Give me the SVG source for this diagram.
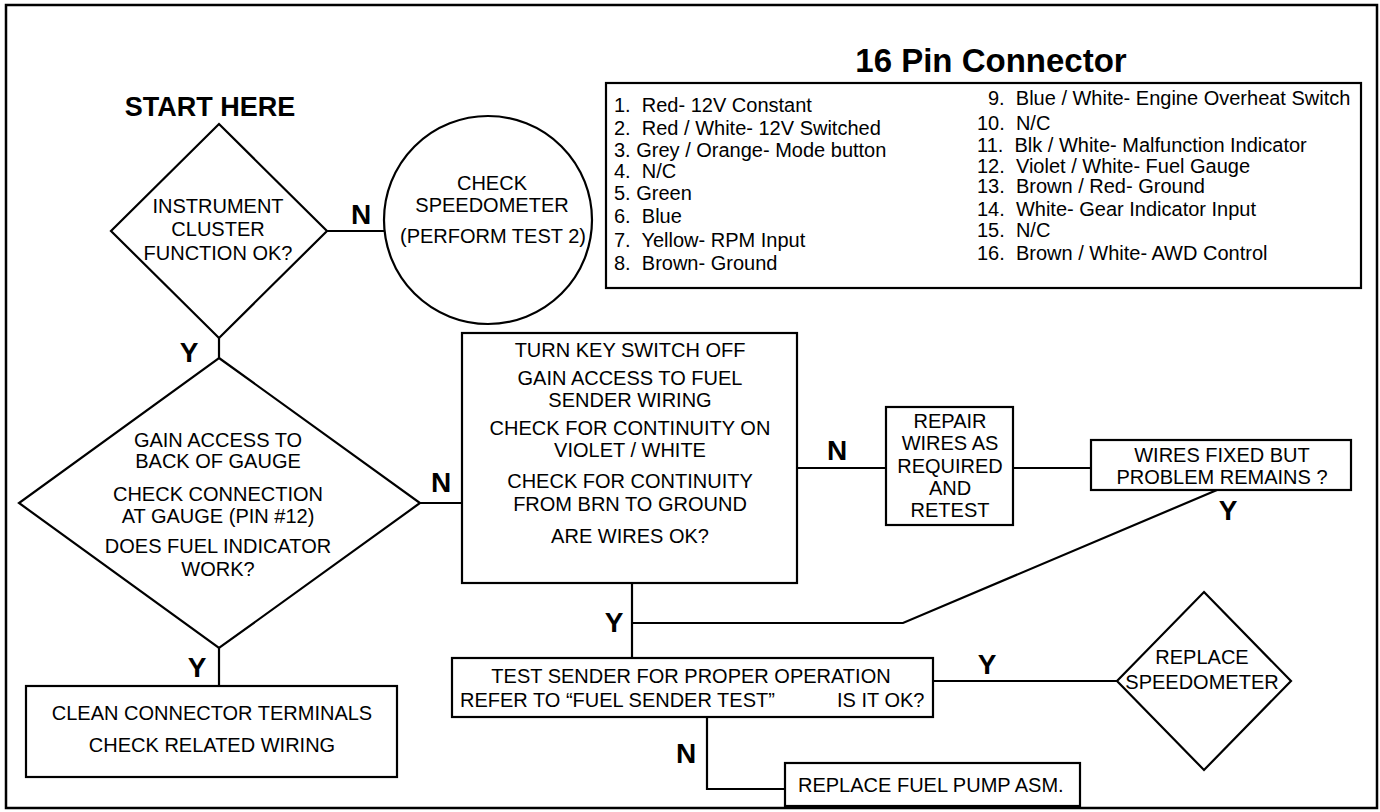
<svg xmlns="http://www.w3.org/2000/svg" width="1380" height="812" viewBox="0 0 1380 812">
<style>
.shape{fill:#fff;stroke:#000;stroke-width:2.2}
.conn{fill:none;stroke:#000;stroke-width:2.2}
text{font-family:"Liberation Sans",Arial,Helvetica,sans-serif;fill:#000}
.t{font-size:20px;text-anchor:middle}
.tl{font-size:20px}
.lbl{font-size:28px;font-weight:bold;text-anchor:middle}
.title{font-weight:bold;text-anchor:middle}
</style>
<rect x="6" y="5" width="1371" height="803" fill="#fff" stroke="#000" stroke-width="2.5"/>

<g id="connectors">
<polyline class="conn" points="327,231 384,231"/>
<polyline class="conn" points="219,338 219,358"/>
<polyline class="conn" points="420,503 462,503"/>
<polyline class="conn" points="797,468 886,468"/>
<polyline class="conn" points="1013,468 1091,468"/>
<polyline class="conn" points="1217,490 903,623 633,623"/>
<polyline class="conn" points="632,583 632,658"/>
<polyline class="conn" points="933,681 1117,681"/>
<polyline class="conn" points="707,717 707,789 785,789"/>
<polyline class="conn" points="219,648 219,686"/>
<text class="lbl" x="361" y="224">N</text>
<text class="lbl" x="189" y="362">Y</text>
<text class="lbl" x="441" y="492">N</text>
<text class="lbl" x="837" y="460">N</text>
<text class="lbl" x="1228" y="520">Y</text>
<text class="lbl" x="614" y="632">Y</text>
<text class="lbl" x="987" y="674">Y</text>
<text class="lbl" x="686" y="763">N</text>
<text class="lbl" x="197" y="677">Y</text>
</g>

<g id="start-label">
<text class="title" x="210" y="116" font-size="27">START HERE</text>
</g>

<g id="d1">
<polygon class="shape" points="219,124 327,231 219,338 111,231"/>
<text class="t" x="218" y="213">INSTRUMENT</text>
<text class="t" x="218" y="236">CLUSTER</text>
<text class="t" x="218" y="260">FUNCTION OK?</text>
</g>

<g id="c1">
<circle class="shape" cx="488" cy="220" r="104"/>
<text class="t" x="492" y="190">CHECK</text>
<text class="t" x="492" y="212">SPEEDOMETER</text>
<text class="t" x="493" y="243">(PERFORM TEST 2)</text>
</g>

<g id="pins">
<text class="title" x="991" y="72" font-size="33">16 Pin Connector</text>
<rect class="shape" x="606" y="83" width="755" height="205"/>
<text class="tl" x="614" y="112">1.&#160; Red- 12V Constant</text>
<text class="tl" x="614" y="135">2.&#160; Red / White- 12V Switched</text>
<text class="tl" x="614" y="157">3. Grey / Orange- Mode button</text>
<text class="tl" x="614" y="178">4.&#160; N/C</text>
<text class="tl" x="614" y="200">5. Green</text>
<text class="tl" x="614" y="223">6.&#160; Blue</text>
<text class="tl" x="614" y="247">7.&#160; Yellow- RPM Input</text>
<text class="tl" x="614" y="270">8.&#160; Brown- Ground</text>
<text class="tl" x="988" y="105">9.&#160; Blue / White- Engine Overheat Switch</text>
<text class="tl" x="977" y="130">10.&#160; N/C</text>
<text class="tl" x="977" y="152">11.&#160; Blk / White- Malfunction Indicator</text>
<text class="tl" x="977" y="173">12.&#160; Violet / White- Fuel Gauge</text>
<text class="tl" x="977" y="193">13.&#160; Brown / Red- Ground</text>
<text class="tl" x="977" y="216">14.&#160; White- Gear Indicator Input</text>
<text class="tl" x="977" y="237">15.&#160; N/C</text>
<text class="tl" x="977" y="260">16.&#160; Brown / White- AWD Control</text>
</g>

<g id="d2">
<polygon class="shape" points="219,358 420,503 219,648 19,503"/>
<text class="t" x="218" y="447">GAIN ACCESS TO</text>
<text class="t" x="218" y="468">BACK OF GAUGE</text>
<text class="t" x="218" y="501">CHECK CONNECTION</text>
<text class="t" x="218" y="523">AT GAUGE (PIN #12)</text>
<text class="t" x="218" y="553">DOES FUEL INDICATOR</text>
<text class="t" x="218" y="576">WORK?</text>
</g>

<g id="check-wires">
<rect class="shape" x="462" y="333" width="335" height="250"/>
<text class="t" x="630" y="357">TURN KEY SWITCH OFF</text>
<text class="t" x="630" y="385">GAIN ACCESS TO FUEL</text>
<text class="t" x="630" y="407">SENDER WIRING</text>
<text class="t" x="630" y="435">CHECK FOR CONTINUITY ON</text>
<text class="t" x="630" y="457">VIOLET / WHITE</text>
<text class="t" x="630" y="488">CHECK FOR CONTINUITY</text>
<text class="t" x="630" y="511">FROM BRN TO GROUND</text>
<text class="t" x="630" y="543">ARE WIRES OK?</text>
</g>

<g id="repair">
<rect class="shape" x="886" y="407" width="127" height="118"/>
<text class="t" x="950" y="428">REPAIR</text>
<text class="t" x="950" y="450">WIRES AS</text>
<text class="t" x="950" y="473">REQUIRED</text>
<text class="t" x="950" y="495">AND</text>
<text class="t" x="950" y="517">RETEST</text>
</g>

<g id="wires-fixed">
<rect class="shape" x="1091" y="440" width="260" height="50"/>
<text class="t" x="1222" y="462">WIRES FIXED BUT</text>
<text class="t" x="1222" y="484">PROBLEM REMAINS ?</text>
</g>

<g id="test-sender">
<rect class="shape" x="452" y="658" width="481" height="59"/>
<text class="t" x="691" y="683">TEST SENDER FOR PROPER OPERATION</text>
<text class="tl" y="707"><tspan x="460">REFER TO “FUEL SENDER TEST”</tspan><tspan x="837">IS IT OK?</tspan></text>
</g>

<g id="replace-speedo">
<polygon class="shape" points="1204,592 1291,681 1204,770 1117,681"/>
<text class="t" x="1202" y="664">REPLACE</text>
<text class="t" x="1202" y="689">SPEEDOMETER</text>
</g>

<g id="fuel-pump">
<rect class="shape" x="785" y="763" width="295" height="43"/>
<text class="tl" x="798" y="792">REPLACE FUEL PUMP ASM.</text>
</g>

<g id="clean">
<rect class="shape" x="26" y="686" width="371" height="91"/>
<text class="t" x="212" y="720">CLEAN CONNECTOR TERMINALS</text>
<text class="t" x="212" y="752">CHECK RELATED WIRING</text>
</g>
</svg>
